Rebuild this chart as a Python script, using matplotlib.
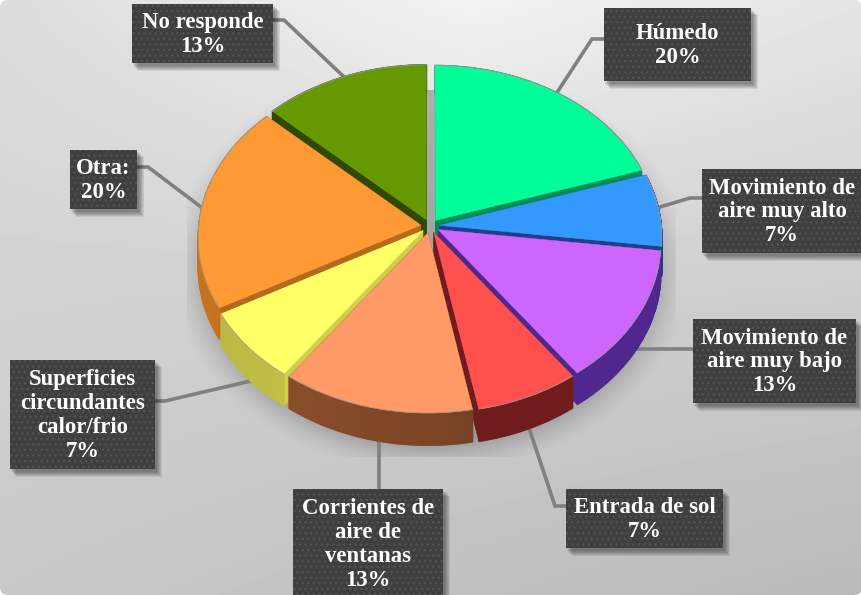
import matplotlib
matplotlib.use("Agg")
import matplotlib.pyplot as plt
from matplotlib.colors import to_rgb
from matplotlib.patches import FancyBboxPatch, Polygon, Rectangle
import numpy as np

WIDTH, HEIGHT = 862, 595

CATEGORIES = ["Húmedo", "Movimiento de\naire muy alto", "Movimiento de\naire muy bajo",
              "Entrada de sol", "Corrientes de\naire de\nventanas",
              "Superficies\ncircundantes\ncalor/frio", "Otra:", "No responde"]
VALUES = [20, 7, 13, 7, 13, 7, 20, 13]

TOP_COLORS = ["#00ff99", "#3399ff", "#cc66ff", "#ff5050", "#ff9966", "#ffff66", "#ff9933", "#669900"]
WALL_COLORS = ["#008f57", "#1f3f86", "#50278c", "#701c1c", "#7c4526", "#cfcf4c", "#b5691a", "#2f4a00"]
WALL_LIGHTING = [0.0, 0.0, 0.0, 0.0, 0.2, -0.12, 0.1, 0.0]

# label boxes as x0, y0, x1, y1 in pixels
BOXES = [(604, 8, 751, 81), (702, 169, 862, 253), (693, 319, 856, 403), (566, 489, 723, 548),
         (293, 489, 443, 600), (10, 360, 155, 469), (70, 150, 137, 209), (132, 4, 273, 63)]
LEADERS = [[(604, 39), (592, 39), (558, 91)],
           [(702, 198), (690, 198), (660, 207)],
           [(693, 349), (630, 349)],
           [(566, 506), (555, 506), (528, 425)],
           [(379, 489), (379, 440)],
           [(155, 401), (165, 401), (255, 380)],
           [(137, 167), (148, 167), (201, 207)],
           [(273, 20), (284, 20), (343, 76)]]

CX, CY = 430, 226
RX, RY = 222, 166.5
PERSPECTIVE = 0.07
DEPTH = 30
EXPLODE = 0.042


def project(u, v, z=0.0):
    f = 1 / (1 + PERSPECTIVE * v)
    return np.column_stack([CX + RX * u * f, CY - RY * v * f + DEPTH * z * f])


def shade(color, factor):
    return tuple(min(1, c * factor) for c in to_rgb(color))


def draw_slice(ax, start, end, top, wall, lighting):
    mid = (start + end) / 2
    ou, ov = EXPLODE * np.sin(mid), EXPLODE * np.cos(mid)
    t = np.linspace(start, end, 60)
    u, v = ou + np.sin(t), ov + np.cos(t)

    # radial walls first, then the rim, then the top face
    for a in (start, end):
        ru, rv = np.array([ou, ou + np.sin(a)]), np.array([ov, ov + np.cos(a)])
        pts = np.vstack([project(ru, rv), project(ru[::-1], rv[::-1], 1)])
        ax.add_patch(Polygon(pts, closed=True, fc=wall, ec=wall, lw=0.3, zorder=4))
    upper, lower = project(u, v), project(u, v, 1)
    for i in range(len(t) - 1):
        pts = np.vstack([upper[i:i + 2], lower[i:i + 2][::-1]])
        c = shade(wall, 1 - lighting * np.sin(t[i]))
        ax.add_patch(Polygon(pts, closed=True, fc=c, ec=c, lw=1.0, zorder=4))

    face = np.vstack([project(np.array([ou]), np.array([ov])), upper])
    ax.add_patch(Polygon(face, closed=True, fc=top, ec=top, lw=0.3, zorder=4))
    ax.plot(upper[:, 0], upper[:, 1], color="#999999", lw=0.6, zorder=4)


def draw_background(ax):
    yy, xx = np.mgrid[0:HEIGHT, 0:WIDTH]
    left = 220 - 20 * yy / HEIGHT
    right = 225 - 40 * yy / HEIGHT
    bump = 20 * np.clip(1 - np.abs(xx - 470) / 470, 0, 1) * np.clip(1 - yy / 300, 0, 1)
    gray = left + (right - left) * xx / WIDTH + bump
    img = ax.imshow(gray / 255, cmap="gray", vmin=0, vmax=1, extent=(0, WIDTH, HEIGHT, 0),
                    zorder=0, aspect="auto")
    frame = FancyBboxPatch((4, 4), WIDTH - 8, HEIGHT - 8, boxstyle="round,pad=4,rounding_size=8",
                           transform=ax.transData, fc="none", ec="none")
    ax.add_patch(frame)
    img.set_clip_path(frame)


def draw_shadow(ax):
    yy, xx = np.mgrid[90:457, 187:676]
    r = np.hypot((xx - 430) / 262, (yy - 266) / 208)
    alpha = np.clip((1.0 - r) / 0.16, 0, 1) ** 1.5 * 0.24
    layer = np.zeros(r.shape + (4,))
    layer[..., 3] = alpha
    ax.imshow(layer, extent=(187, 676, 457, 90), zorder=1, aspect="auto")


def draw_label(ax, box, name, value):
    x0, y0, x1, y1 = box
    w, h = x1 - x0, y1 - y0
    for i in range(6):
        ax.add_patch(Rectangle((x0 + 1 + i, y0 + 2 + i), w + 1, h + 1, fc="black", ec="none",
                               alpha=0.08, zorder=5))
    ax.add_patch(Rectangle((x0, y0), w, h, fc="#3f3f3f", ec="#525252", hatch="...", lw=0, zorder=6))
    ax.text((x0 + x1) / 2, (y0 + y1) / 2 + (1 if y1 < HEIGHT else 0), f"{name}\n{value}%",
            color="white", ha="center", va="center", family="Liberation Serif", weight="bold",
            fontsize=16.4, linespacing=1.175, zorder=7)


fig = plt.figure(figsize=(WIDTH / 100, HEIGHT / 100), dpi=100, facecolor="white")
ax = fig.add_axes([0, 0, 1, 1])
draw_background(ax)
draw_shadow(ax)
ax.set_xlim(0, WIDTH)
ax.set_ylim(HEIGHT, 0)
ax.axis("off")

for path in LEADERS:
    xs, ys = zip(*path)
    ax.plot(xs, ys, color="#808080", lw=2.6, solid_joinstyle="miter", zorder=3)

fractions = np.array(VALUES) / sum(VALUES)
ends = np.cumsum(fractions) * 2 * np.pi
starts = ends - fractions * 2 * np.pi
mids = (starts + ends) / 2

# back slices go down first so the front ones overlap them
for i in np.argsort(-np.cos(mids)):
    draw_slice(ax, starts[i], ends[i], TOP_COLORS[i], WALL_COLORS[i], WALL_LIGHTING[i])

for box, name, value in zip(BOXES, CATEGORIES, VALUES):
    draw_label(ax, box, name, value)

fig.savefig("out.png", dpi=100)
